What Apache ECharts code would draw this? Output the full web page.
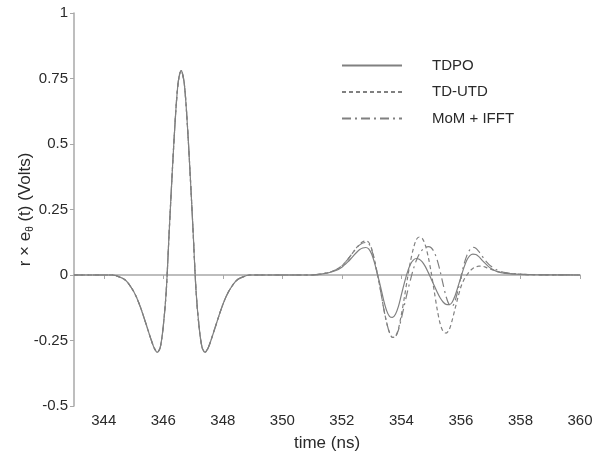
<!DOCTYPE html>
<html>
<head>
<meta charset="utf-8">
<script src="https://cdn.jsdelivr.net/npm/echarts@6/dist/echarts.min.js"></script>
<style>
    html,body{margin:0;padding:0;background:#fff;}
    #main{width:606px;height:457px;}
</style>
</head>
<body>
<div id="main"></div>
<script>
// first pulse, same for all three methods
var pulseTimes=[343,344.3,344.4,344.5,344.6,344.7,344.8,344.9,345.0,345.1,345.2,345.3,345.4,345.5,345.6,345.7,345.8,345.9,
    346.0,346.1,346.2,346.3,346.4,346.5,346.6,346.7,346.8,346.9,347.0,347.1,347.2,347.3,347.4,347.5,347.6,347.7,347.8,347.9,
    348.0,348.1,348.2,348.3,348.4,348.5,348.6,348.7,348.8,348.9];
var pulseValues=[0,0,-0.002,-0.006,-0.011,-0.017,-0.028,-0.044,-0.062,-0.085,-0.113,-0.145,-0.18,-0.215,-0.25,-0.28,-0.295,-0.275,
    -0.195,-0.06,0.17,0.39,0.59,0.735,0.78,0.735,0.59,0.39,0.17,-0.06,-0.195,-0.275,-0.295,-0.28,-0.25,-0.215,-0.18,-0.145,
    -0.113,-0.085,-0.062,-0.044,-0.028,-0.017,-0.011,-0.006,-0.002,0];

// second (diffracted) pulse
var tailTimes=[349,351,351.5,351.8,
    352.0,352.1,352.2,352.3,352.4,352.5,352.6,352.7,352.8,352.9,
    353.0,353.1,353.2,353.3,353.4,353.5,353.6,353.7,353.8,353.9,
    354.0,354.1,354.2,354.3,354.4,354.5,354.6,354.7,354.8,354.9,
    355.0,355.1,355.2,355.3,355.4,355.5,355.6,355.7,355.8,355.9,
    356.0,356.1,356.2,356.3,356.4,356.5,356.6,356.7,356.8,356.9,
    357.0,357.2,357.5,358,358.5,360];
var tdpoTail=[0,0,0.007,0.017,
    0.03,0.04,0.05,0.062,0.075,0.087,0.097,0.103,0.105,0.1,
    0.08,0.045,0.0,-0.045,-0.095,-0.135,-0.158,-0.162,-0.15,-0.12,
    -0.075,-0.03,0.01,0.04,0.057,0.063,0.06,0.05,0.033,0.01,
    -0.015,-0.04,-0.065,-0.087,-0.103,-0.112,-0.113,-0.105,-0.08,-0.045,
    -0.008,0.028,0.057,0.074,0.08,0.078,0.07,0.058,0.046,0.035,
    0.026,0.014,0.006,0.002,0.001,0];
var tdutdTail=[0,0,0.008,0.02,
    0.035,0.047,0.06,0.075,0.09,0.105,0.118,0.127,0.13,0.125,
    0.1,0.055,0.0,-0.06,-0.125,-0.18,-0.22,-0.238,-0.235,-0.205,
    -0.15,-0.085,-0.015,0.05,0.1,0.135,0.145,0.14,0.115,0.07,
    0.01,-0.06,-0.13,-0.185,-0.215,-0.222,-0.21,-0.175,-0.13,-0.085,
    -0.045,-0.018,0.0,0.015,0.025,0.031,0.034,0.034,0.031,0.026,
    0.022,0.014,0.007,0.003,0.001,0];
var momTail=[0,0,0.008,0.02,
    0.035,0.047,0.06,0.075,0.09,0.104,0.115,0.122,0.124,0.12,
    0.097,0.053,0.0,-0.06,-0.125,-0.18,-0.22,-0.238,-0.235,-0.21,
    -0.165,-0.115,-0.065,-0.02,0.022,0.055,0.08,0.096,0.105,0.108,
    0.104,0.088,0.058,0.015,-0.035,-0.082,-0.112,-0.12,-0.1,-0.058,
    -0.008,0.04,0.075,0.097,0.106,0.102,0.09,0.074,0.058,0.045,
    0.034,0.02,0.009,0.003,0.001,0];

var xTicks=[344,346,348,350,352,354,356,358,360];
var seriesNames=['TDPO','TD-UTD','MoM + IFFT'];

function pairs(times,values){
    var out=[];
    for(var i=0;i<times.length;i++){
        out.push([times[i],values[i]]);
    }
    return out;
}
function fullCurve(tail){
    return pairs(pulseTimes,pulseValues).concat(pairs(tailTimes,tail));
}

var chart=echarts.init(document.getElementById('main'),null,{renderer:'canvas'});
var font='Liberation Sans, Arial, sans-serif';
var axisColor='#a8a8a8';
var lineColor='#808080';
var textColor='#2a2a2a';

var option={
    animation:false,
    backgroundColor:'#fff',
    grid:{left:74,right:26,top:13,bottom:49,containLabel:false},
    legend:{
        orient:'vertical',
        left:336,
        top:53,
        itemWidth:60,
        itemHeight:14,
        itemGap:11.5,
        data:seriesNames,
        itemStyle:{opacity:0},
        textStyle:{fontFamily:font,fontSize:15,color:textColor,padding:[0,0,0,25]}
    },
    xAxis:{
        type:'value',
        min:343,
        max:360,
        name:'time (ns)',
        nameLocation:'middle',
        nameGap:29,
        nameTextStyle:{fontFamily:font,fontSize:17,color:textColor},
        axisLine:{lineStyle:{color:axisColor,width:1.5}},
        axisTick:{show:true,length:4,lineStyle:{color:axisColor},customValues:xTicks},
        axisLabel:{fontFamily:font,fontSize:15,color:textColor,margin:7,customValues:xTicks},
        splitLine:{show:false}
    },
    yAxis:{
        type:'value',
        min:-0.5,
        max:1,
        interval:0.25,
        name:'{a|r × e}{sub|θ}{a| (t) (Volts)}',
        nameLocation:'middle',
        nameGap:39,
        nameMoveOverlap:false,
        nameRotate:90,
        nameTextStyle:{
            fontFamily:font,color:textColor,
            rich:{
                a:{fontFamily:font,fontSize:17,color:textColor,lineHeight:20,verticalAlign:'middle'},
                sub:{fontFamily:font,fontSize:10,color:textColor,lineHeight:20,verticalAlign:'bottom'}
            }
        },
        axisLine:{show:true,lineStyle:{color:axisColor,width:1.5}},
        axisTick:{show:true,length:4,lineStyle:{color:axisColor}},
        axisLabel:{fontFamily:font,fontSize:15,color:textColor,margin:6},
        splitLine:{show:false}
    },
    series:[
        {name:seriesNames[0],type:'line',symbol:'none',smooth:0.3,data:fullCurve(tdpoTail),
            lineStyle:{color:lineColor,width:1.2,type:'solid'},itemStyle:{color:lineColor}},
        {name:seriesNames[1],type:'line',symbol:'none',smooth:0.3,data:fullCurve(tdutdTail),
            lineStyle:{color:lineColor,width:1.2,type:[4,3]},itemStyle:{color:lineColor}},
        {name:seriesNames[2],type:'line',symbol:'none',smooth:0.3,data:fullCurve(momTail),
            lineStyle:{color:lineColor,width:1.2,type:[9,4,2,4]},itemStyle:{color:lineColor}}
    ]
};
chart.setOption(option);
</script>
</body>
</html>
